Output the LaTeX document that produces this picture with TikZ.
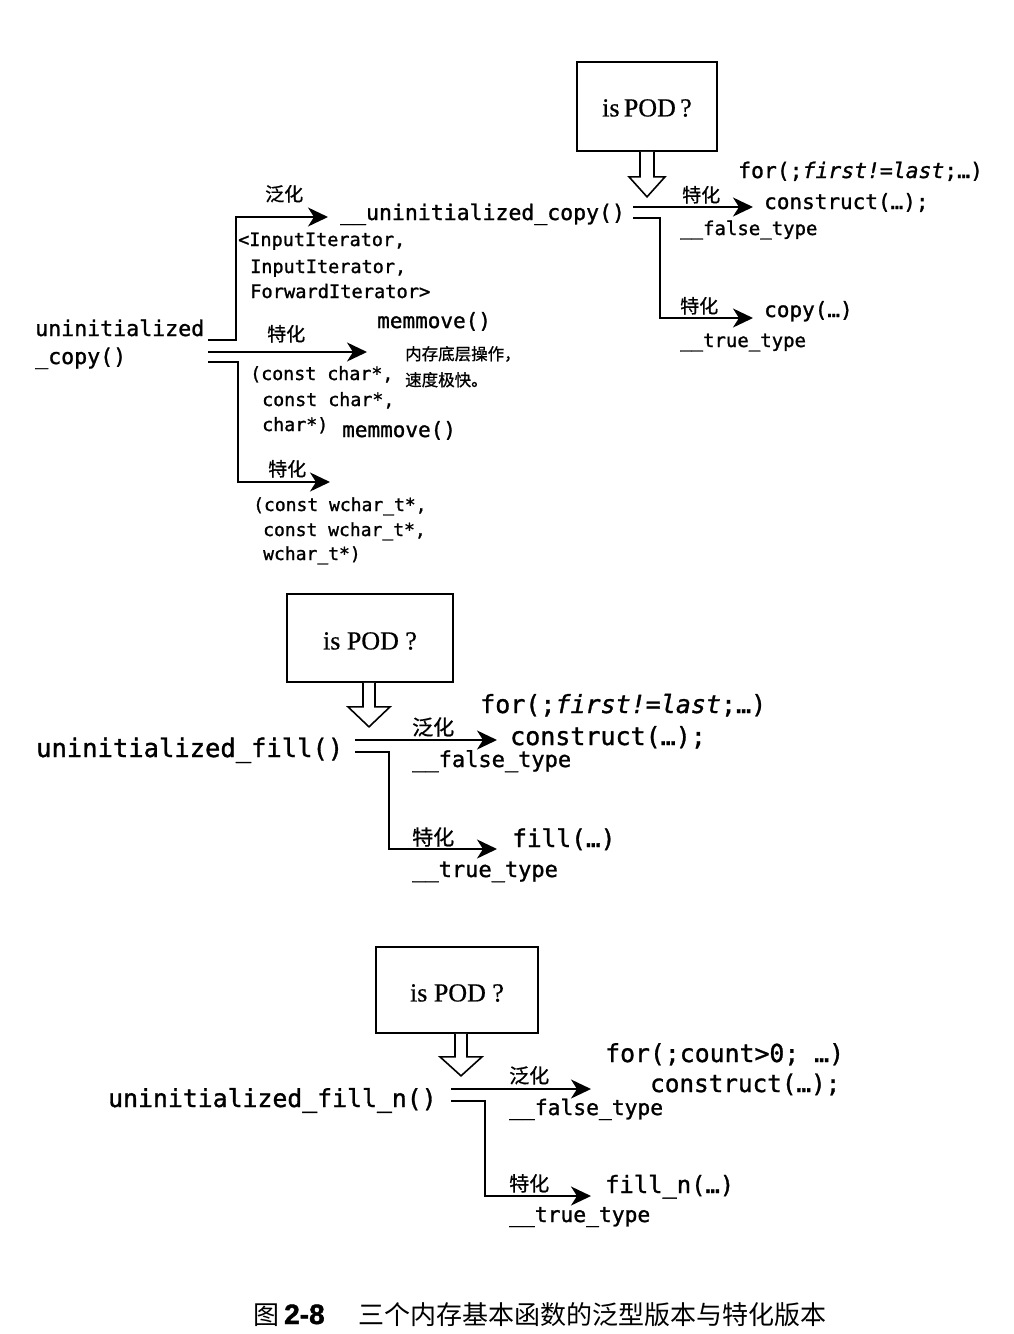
\documentclass[tikz,border=0pt]{standalone}
\usepackage{fontspec}
\setmainfont{Liberation Serif}[UprightFeatures={FakeBold=0.6}]
\newfontfamily\codefont{DejaVu Sans Mono}[UprightFeatures={FakeBold=1.2},ItalicFeatures={FakeBold=1.2}]
\newfontfamily\cjk{Noto Sans CJK SC}[UprightFeatures={FakeBold=0.8}]
\newfontfamily\cjkcap{Noto Sans CJK SC}
\newfontfamily\capsans{Liberation Sans}[BoldFeatures={FakeBold=1.5}]
\usetikzlibrary{arrows.meta}
\newcommand{\fsz}[1]{\fontsize{#1}{#1}\selectfont}
\begin{document}
\begin{tikzpicture}[x=1pt,y=-1pt,
  code/.style={anchor=base west,inner sep=0pt,font=\codefont},
  lab/.style={anchor=base west,inner sep=0pt,font=\cjk},
  arr/.style={line width=2pt,-{Stealth[length=20pt,width=19pt,inset=6pt]}},
  podbox/.style={draw,line width=1.7pt,inner sep=0pt,font=\fsz{26}},
  hollow/.style={draw,line width=1.6pt,fill=white,line join=miter}]
\useasboundingbox[fill=white] (0,0) rectangle (1013,1334);

% ================= TOP: uninitialized_copy =================
\node[podbox,minimum width=140pt,minimum height=89pt] (pod1) at (647,106.5) {};
\node[inner sep=0pt,font=\fsz{26}] (pod1t) at (647,108) {is\,POD\,?};
\draw[hollow] (pod1.south) ++(-7,0) -- ++(0,25) -- ++(-11,0) -- ++(18,20) -- ++(18,-20) -- ++(-11,0) -- ++(0,-25);

\node[code,font=\codefont\fsz{21.6}] (uc1) at (35,336) {uninitialized};
\node[code,font=\codefont\fsz{21.6}] (uc2) at (35,364) {\_copy()};

\node[code,font=\codefont\fsz{21.5}] (uuc) at (340,220) {\_\_uninitialized\_copy()};
\node[code,font=\codefont\fsz{18.5}] (it1) at (238,246) {<InputIterator,};
\node[code,font=\codefont\fsz{18.5}] (it2) at (250,273) {InputIterator,};
\node[code,font=\codefont\fsz{18.7}] (it3) at (250,298) {ForwardIterator>};

\node[code,font=\codefont\fsz{21}] (mm1) at (377,328) {memmove()};
\node[lab,font=\cjk\fsz{16.5}] (note1) at (405,360) {内存底层操作，};
\node[lab,font=\cjk\fsz{16.5}] (note2) at (405,386) {速度极快。};
\node[code,font=\codefont\fsz{18.3}] (ch1) at (250,380) {(const char*,};
\node[code,font=\codefont\fsz{18.3}] (ch2) at (262,406) {const char*,};
\node[code,font=\codefont\fsz{18.3}] (ch3) at (262,431) {char*)};
\node[code,font=\codefont\fsz{21}] (mm2) at (342,437) {memmove()};
\node[code,font=\codefont\fsz{18}] (wc1) at (253,511) {(const wchar\_t*,};
\node[code,font=\codefont\fsz{18}] (wc2) at (263,536) {const wchar\_t*,};
\node[code,font=\codefont\fsz{18}] (wc3) at (263,560) {wchar\_t*)};

\node[lab,font=\cjk\fsz{19}] (l1) at (265,201) {泛化};
\node[lab,font=\cjk\fsz{19}] (l2) at (267,341) {特化};
\node[lab,font=\cjk\fsz{19}] (l3) at (268,476) {特化};

\coordinate (a1) at (208,340);
\coordinate (a1b) at (236,340);
\coordinate (a1t) at (328,217);
\coordinate (a2) at (208,352);
\coordinate (a2t) at (367,352);
\coordinate (a3) at (208,362);
\coordinate (a3b) at (238,362);
\coordinate (a3t) at (330,482);
\draw[arr] (a1) -- (a1b) |- (a1t);
\draw[arr] (a2) -- (a2t);
\draw[arr] (a3) -- (a3b) |- (a3t);

\node[lab,font=\cjk\fsz{19}] (l4) at (682,202) {特化};
\node[code,font=\codefont\fsz{19}] (ft1) at (680,235) {\_\_false\_type};
\node[code,font=\codefont\fsz{21.4}] (for1) at (738,178) {for(;\textit{first!=last};…)};
\node[code,font=\codefont\fsz{21}] (con1) at (764,209) {construct(…);};
\node[lab,font=\cjk\fsz{19}] (l5) at (680,313) {特化};
\node[code,font=\codefont\fsz{21}] (cp1) at (764,317) {copy(…)};
\node[code,font=\codefont\fsz{19}] (tt1) at (680,347) {\_\_true\_type};

\coordinate (b1) at (633,207);
\coordinate (b1t) at (753,207);
\coordinate (b2) at (633,218);
\coordinate (b2b) at (660,218);
\coordinate (b2t) at (753,318);
\draw[arr] (b1) -- (b1t);
\draw[arr] (b2) -- (b2b) |- (b2t);

% ================= MIDDLE: uninitialized_fill =================
\node[podbox,minimum width=166pt,minimum height=88pt] (pod2) at (370,638) {};
\node[inner sep=0pt,font=\fsz{26}] (pod2t) at (370,641) {is POD ?};
\draw[hollow] (pod2.south) ++(-7,0) -- ++(0,24) -- ++(-15,0) -- ++(21,20) -- ++(21,-20) -- ++(-15,0) -- ++(0,-24);

\node[code,font=\codefont\fsz{25.5}] (uf) at (36,757) {uninitialized\_fill()};
\node[code,font=\codefont\fsz{25}] (for2) at (480,713) {for(;\textit{first!=last};…)};
\node[code,font=\codefont\fsz{25}] (con2) at (510,745) {construct(…);};
\node[lab,font=\cjk\fsz{21}] (l6) at (412,735) {泛化};
\node[code,font=\codefont\fsz{22}] (ft2) at (412,767) {\_\_false\_type};
\node[lab,font=\cjk\fsz{21}] (l7) at (412,845) {特化};
\node[code,font=\codefont\fsz{24.5}] (fl) at (512,847) {fill(…)};
\node[code,font=\codefont\fsz{22}] (tt2) at (412,877) {\_\_true\_type};

\coordinate (c1) at (355,740);
\coordinate (c1t) at (497,740);
\coordinate (c2) at (355,752);
\coordinate (c2b) at (389,752);
\coordinate (c2t) at (497,849);
\draw[arr] (c1) -- (c1t);
\draw[arr] (c2) -- (c2b) |- (c2t);

% ================= BOTTOM: uninitialized_fill_n =================
\node[podbox,minimum width=162pt,minimum height=86pt] (pod3) at (457,990) {};
\node[inner sep=0pt,font=\fsz{26}] (pod3t) at (457,993) {is POD ?};
\draw[hollow] (pod3.south) ++(-2,0) -- ++(0,23) -- ++(-15,0) -- ++(21,19) -- ++(21,-19) -- ++(-15,0) -- ++(0,-23);

\node[code,font=\codefont\fsz{24.8}] (ufn) at (108,1107) {uninitialized\_fill\_n()};
\node[code,font=\codefont\fsz{24.8}] (for3) at (605,1062) {for(;count>0; …)};
\node[code,font=\codefont\fsz{24.3}] (con3) at (650,1092) {construct(…);};
\node[lab,font=\cjk\fsz{20}] (l8) at (509,1083) {泛化};
\node[code,font=\codefont\fsz{21.3}] (ft3) at (509,1115) {\_\_false\_type};
\node[lab,font=\cjk\fsz{20}] (l9) at (509,1191) {特化};
\node[code,font=\codefont\fsz{23.8}] (fln) at (605,1193) {fill\_n(…)};
\node[code,font=\codefont\fsz{21.3}] (tt3) at (509,1222) {\_\_true\_type};

\coordinate (d1) at (451,1089);
\coordinate (d1t) at (591,1089);
\coordinate (d2) at (451,1101);
\coordinate (d2b) at (485,1101);
\coordinate (d2t) at (591,1196);
\draw[arr] (d1) -- (d1t);
\draw[arr] (d2) -- (d2b) |- (d2t);

% ================= CAPTION =================
\node[anchor=base west,inner sep=0pt,font=\cjkcap\fsz{26}] (cap1) at (253,1324) {图};
\node[anchor=base west,inner sep=0pt,font=\capsans\bfseries\fsz{28}] (cap2) at (284,1324) {2-8};
\node[anchor=base west,inner sep=0pt,font=\cjkcap\fsz{26}] (cap3) at (358,1324) {三个内存基本函数的泛型版本与特化版本};
\end{tikzpicture}
\end{document}
